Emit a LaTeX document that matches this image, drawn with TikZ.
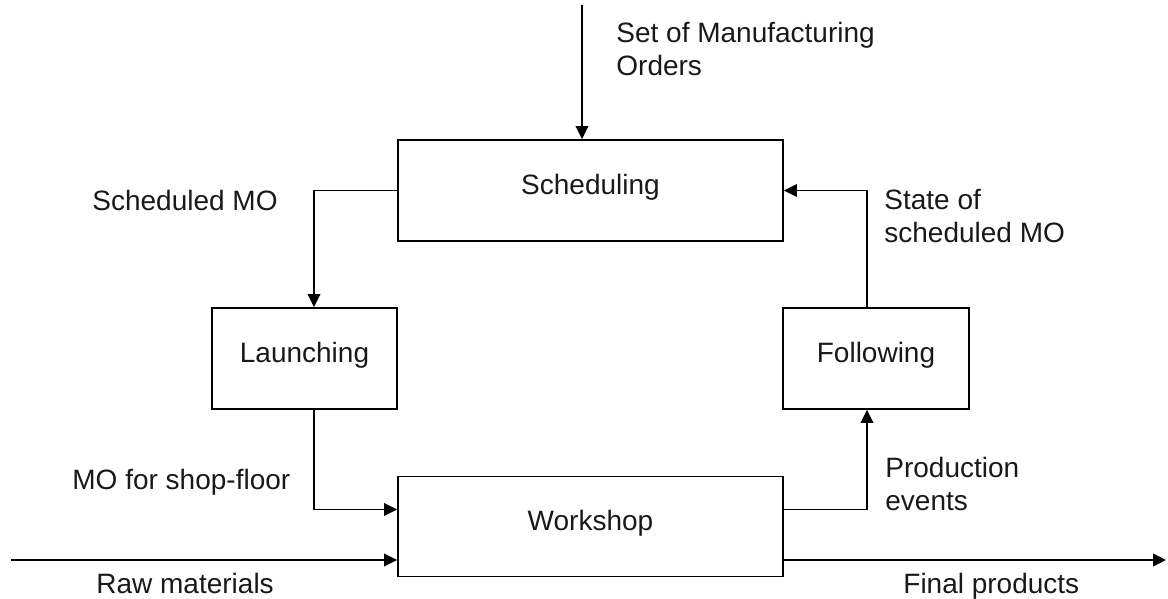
\documentclass[tikz,border=0pt]{standalone}
\usepackage{fontspec}
\setmainfont{Liberation Sans}
\usetikzlibrary{arrows.meta}
\begin{document}
\begin{tikzpicture}[x=0.5pt,y=-0.5pt,
  every node/.style={font=\fontsize{14}{16.5}\selectfont, text=black!90},
  procbox/.style={draw, line width=0.9pt, inner sep=0pt, text height=10pt, text depth=6.5pt},
  conn/.style={line width=0.9pt},
  arr/.style={conn, -{Triangle[length=6.5pt,width=6.3pt]}},
  lbl/.style={inner sep=0pt, anchor=north west, align=left}]
\useasboundingbox (0,0) rectangle (1168,599);
% boxes
\node[procbox, minimum width=192.5pt, minimum height=50.5pt] (sched) at (590.5,190.5) {Scheduling};
\node[procbox, minimum width=92.5pt, minimum height=50.5pt] (launch) at (304.5,358.5) {Launching};
\node[procbox, minimum width=93pt, minimum height=50.5pt] (follow) at (876,358.5) {Following};
\node[procbox, minimum width=192.5pt, minimum height=50pt] (work) at (590.5,526.5) {Workshop};
% free ends
\coordinate (topin) at (582,5);
\coordinate (rawin) at (11,560);
\coordinate (finout) at (1166,560);
% connectors
\draw[arr] (topin) -- (topin |- sched.north);
\draw[arr] (sched.west) -| ([xshift=4.75pt]launch.north);
\draw[arr] ([xshift=4.75pt]launch.south) |- ([yshift=8.5pt]work.west);
\draw[arr] (rawin) -- (rawin -| work.west);
\draw[arr] (rawin -| work.east) -- (finout);
\draw[arr] ([yshift=8.5pt]work.east) -| ([xshift=-4.5pt]follow.south);
\draw[arr] ([xshift=-4.5pt]follow.north) |- (sched.east);
% labels
\node[lbl] (lset) at (616,21.5) {Set of Manufacturing\\Orders};
\node[lbl] (lsmo) at (92,189.5) {Scheduled MO};
\node[lbl] (lstate) at (884,188.5) {State of\\scheduled MO};
\node[lbl] (lmo) at (72,468.5) {MO for shop-floor};
\node[lbl] (lprod) at (885,456.5) {Production\\events};
\node[lbl] (lraw) at (96,572.5) {Raw materials};
\node[lbl] (lfin) at (903,572.5) {Final products};
\end{tikzpicture}
\end{document}
